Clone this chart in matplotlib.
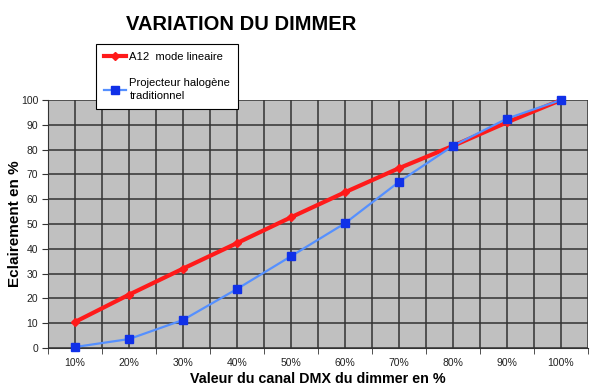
import matplotlib.pyplot as plt
import numpy as np

plt.rcParams['font.family'] = ['Liberation Sans', 'DejaVu Sans']

categories = ['10%', '20%', '30%', '40%', '50%', '60%', '70%', '80%', '90%', '100%']
a12_lineaire = [10.5, 21.5, 32, 42.3, 52.7, 62.8, 72.5, 81.5, 91, 100]
halogene = [0.4, 3.6, 11.3, 23.8, 37, 50.3, 67, 81.5, 92.5, 100]
y_ticks = [0, 10, 20, 30, 40, 50, 60, 70, 80, 90, 100]

W, H = 600, 392
fig = plt.figure(figsize=(6, 3.92), dpi=100)
left, right, top, bottom = 48, 588, 100, 348
ax = fig.add_axes([left / W, 1 - bottom / H, (right - left) / W, (bottom - top) / H])
ax.set_facecolor('#c0c0c0')

x = np.arange(len(categories))
ax.set_xlim(-0.5, len(categories) - 0.5)
ax.set_ylim(0, 100)

for yv in y_ticks:
    ax.axhline(yv, color='#333333', lw=1.1, zorder=1)
for xv in np.arange(-0.5, len(categories), 0.5):
    ax.axvline(xv, color='#333333', lw=1.1, zorder=1)

ax.plot(x, a12_lineaire, color='#ff1a1a', lw=3, marker='D', ms=4,
        markerfacecolor='#ff1a1a', markeredgecolor='#ff1a1a', zorder=3,
        label='A12  mode lineaire', clip_on=False)
ax.plot(x, halogene, color='#5590ff', lw=1.6, marker='s', ms=6,
        markerfacecolor='#1030e8', markeredgecolor='#1030e8', zorder=4,
        label='Projecteur halogène\ntraditionnel', clip_on=False)

ax.set_yticks(y_ticks)
ax.set_yticklabels([str(v) for v in y_ticks], fontsize=7.5, color='#222222')
ax.set_xticks(x)
ax.set_xticklabels(categories, fontsize=7.5, color='#222222')
ax.set_xticks(np.arange(-0.5, len(categories), 1.0), minor=True)
ax.tick_params(axis='x', which='major', length=0, pad=7)
ax.tick_params(axis='x', which='minor', length=4, color='#333333')
ax.tick_params(axis='y', length=4, color='#333333', pad=3)

for s in ['top', 'right']:
    ax.spines[s].set_visible(False)
ax.spines['left'].set_color('#333333')
ax.spines['bottom'].set_color('#333333')

ax.set_ylabel('Eclairement en %', fontsize=11, fontweight='bold', labelpad=1)
ax.yaxis.set_label_coords(-(left - 22) / (right - left), 0.5)
ax.set_xlabel('Valeur du canal DMX du dimmer en %', fontsize=10.3, fontweight='bold', labelpad=3)

fig.text(241 / W, 1 - 24 / H, 'VARIATION DU DIMMER', fontsize=14.5, fontweight='bold',
         ha='center', va='center')

leg = fig.legend(loc='upper left', bbox_to_anchor=(90 / W, 1 - 38 / H), fontsize=8.1,
                 frameon=True, fancybox=False, edgecolor='black', framealpha=1,
                 labelspacing=1.45, handlelength=2.0, handletextpad=0.3, borderpad=0.7)
for t in leg.get_texts():
    t.set_linespacing(1.45)
leg.get_frame().set_linewidth(0.8)

fig.savefig('out.png', dpi=100)
